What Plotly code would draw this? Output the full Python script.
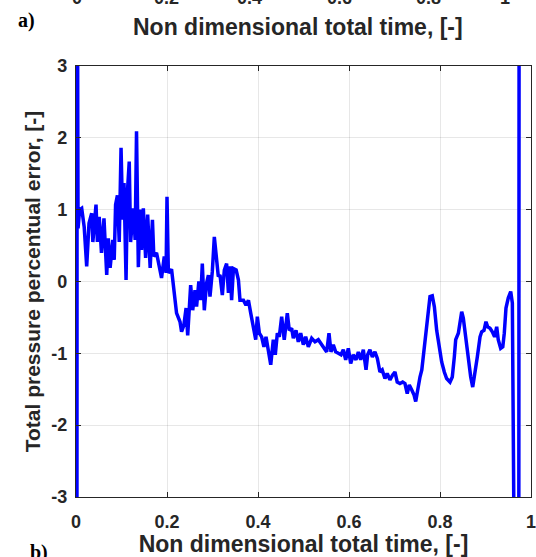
import plotly.graph_objects as go

# ---- data ----
time_vals = [0.002, 0.0025, 0.003, 0.004, 0.0045, 0.008, 0.0125, 0.018, 0.0235, 0.0286,
             0.0345, 0.037, 0.044, 0.047, 0.051, 0.056, 0.0615, 0.0675, 0.071, 0.075,
             0.081, 0.084, 0.087, 0.091, 0.095, 0.099, 0.1026, 0.1055, 0.11, 0.113,
             0.117, 0.12, 0.126, 0.13, 0.133, 0.137, 0.141, 0.144, 0.148, 0.153,
             0.1575, 0.163, 0.168, 0.171, 0.177, 0.182, 0.188, 0.194, 0.198, 0.2,
             0.203, 0.21, 0.215, 0.221, 0.2286, 0.232, 0.237, 0.242, 0.2455, 0.252,
             0.2565, 0.2615, 0.265, 0.270, 0.274, 0.2776, 0.282, 0.287, 0.291, 0.2945,
             0.2996, 0.304, 0.3077, 0.3128, 0.3165, 0.3216, 0.326, 0.331, 0.335, 0.3385,
             0.342, 0.346, 0.352, 0.357, 0.3604, 0.368, 0.3736, 0.379, 0.384, 0.39,
             0.395, 0.3985, 0.403, 0.408, 0.413, 0.4176, 0.4227, 0.428, 0.4336, 0.438,
             0.4425, 0.4468, 0.452, 0.4577, 0.4644, 0.4688, 0.474, 0.4776, 0.4835, 0.4886,
             0.4938, 0.4996, 0.5048, 0.5106, 0.518, 0.5253, 0.5326, 0.54, 0.547, 0.551,
             0.556, 0.5604, 0.5655, 0.5707, 0.5765, 0.5824, 0.5875, 0.5927, 0.5985, 0.6037,
             0.6095, 0.6154, 0.6205, 0.6257, 0.6315, 0.6374, 0.641, 0.646, 0.6513, 0.657,
             0.6623, 0.668, 0.673, 0.679, 0.684, 0.690, 0.696, 0.701, 0.706, 0.712,
             0.718, 0.723, 0.728, 0.7325, 0.738, 0.743, 0.7466, 0.752, 0.756, 0.76,
             0.7634, 0.767, 0.7708, 0.7743, 0.778, 0.783, 0.7876, 0.7927, 0.7985, 0.8037,
             0.8095, 0.8146, 0.822, 0.827, 0.8315, 0.8345, 0.8403, 0.844, 0.8477, 0.8512,
             0.8565, 0.8623, 0.8675, 0.8719, 0.877, 0.882, 0.888, 0.8916, 0.8967, 0.901,
             0.9048, 0.91, 0.915, 0.920, 0.9246, 0.928, 0.9334, 0.938, 0.9413, 0.945,
             0.950, 0.9554, 0.959, 0.962, 0.9655, 0.973, 0.974]

error_vals = [-6, 6, 2.3, 2.05, 0.74, 1.0, 1.02, 0.76, 0.21, 0.81,
              0.95, 0.55, 1.07, 0.55, 0.9, 0.4, 0.88, 0.09, 0.6, 0.19,
              0.58, 0.3, 1.07, 1.2, 0.55, 1.86, 0.86, 1.37, 0.02, 1.25,
              1.67, 0.55, 1.02, 0.58, 2.09, 0.2, 1.0, 0.44, 1.02, 0.33,
              0.93, 0.19, 0.86, 0.35, 0.4, 0.21, 0.05, 0.35, 0.12, 1.18,
              0.12, 0.17, -0.14, -0.44, -0.56, -0.70, -0.61, -0.37, -0.75, -0.05,
              -0.40, -0.12, -0.35, 0.0, -0.26, 0.25, -0.40, -0.02, 0.09, -0.21,
              0.14, 0.62, 0.39, 0.07, 0.09, -0.19, 0.16, 0.25, -0.16, 0.21,
              -0.26, 0.18, 0.16, 0.02, -0.26, -0.26, -0.33, -0.26, -0.44, -0.63,
              -0.81, -0.49, -0.72, -0.77, -0.91, -0.77, -1.0, -1.16, -0.81, -1.02,
              -0.72, -0.77, -0.49, -0.81, -0.44, -0.68, -0.65, -0.79, -0.68, -0.84,
              -0.72, -0.88, -0.77, -0.91, -0.79, -0.84, -0.81, -0.88, -0.95, -0.98,
              -0.72, -0.98, -0.88, -0.98, -1.0, -1.02, -0.95, -1.09, -0.93, -1.14,
              -1.02, -1.09, -0.98, -1.09, -0.95, -1.23, -1.02, -0.95, -1.05, -0.98,
              -1.07, -1.26, -1.23, -1.35, -1.28, -1.37, -1.30, -1.26, -1.40, -1.42,
              -1.40, -1.42, -1.56, -1.44, -1.51, -1.58, -1.67, -1.44, -1.33, -1.23,
              -1.02, -0.84, -0.63, -0.35, -0.21, -0.20, -0.35, -0.68, -0.95, -1.12,
              -1.26, -1.35, -1.40, -1.33, -1.05, -0.81, -0.72, -0.58, -0.42, -0.51,
              -0.81, -1.14, -1.33, -1.47, -1.28, -1.05, -0.77, -0.70, -0.68, -0.56,
              -0.63, -0.65, -0.70, -0.77, -0.63, -0.81, -0.93, -0.91, -0.72, -0.37,
              -0.23, -0.14, -0.30, -1.7, -6, -6, 6]

x_tick_vals = [0, 0.2, 0.4, 0.6, 0.8, 1]
x_tick_text = ["0", "0.2", "0.4", "0.6", "0.8", "1"]
y_tick_vals = [-3, -2, -1, 0, 1, 2, 3]
y_tick_text = ["-3", "-2", "-1", "0", "1", "2", "3"]

# cut-off tick labels of the panel above (panel a)
top_tick_text = ["0", "0.2", "0.4", "0.6", "0.8", "1"]
top_tick_pos = [0.002, 0.198, 0.382, 0.580, 0.774, 0.943]

x_title = "Non dimensional total time, [-]"
y_title = "Total pressure percentual error, [-]"

AX = "#262626"
GRID = "rgba(38,38,38,0.11)"
SANS = "Liberation Sans, Arial, sans-serif"
SERIF = "Liberation Serif, Times New Roman, serif"

fig = go.Figure()
fig.add_trace(go.Scatter(
    x=time_vals, y=error_vals, mode="lines",
    line=dict(color="#0000ff", width=3.5),
    showlegend=False, hoverinfo="skip",
))

fig.update_layout(
    width=536, height=557,
    margin=dict(l=76, r=5, t=66, b=60),
    paper_bgcolor="white", plot_bgcolor="white",
    font=dict(family=SANS, color=AX),
)

fig.update_xaxes(
    range=[0, 1], tickvals=x_tick_vals, ticktext=x_tick_text,
    showgrid=True, gridcolor=GRID, gridwidth=1, zeroline=False,
    showline=True, linecolor=AX, linewidth=1.2, mirror="ticks",
    ticks="inside", ticklen=5, tickcolor=AX, tickwidth=1,
    tickfont=dict(family=SANS, size=18, color=AX, weight="bold"),
    ticklabelstandoff=8, ticklabeloverflow="allow",
    title=dict(text=x_title, font=dict(family=SANS, size=23, color=AX, weight="bold"), standoff=1),
    automargin=False,
)
fig.update_yaxes(
    range=[-3, 3], tickvals=y_tick_vals, ticktext=y_tick_text,
    showgrid=True, gridcolor=GRID, gridwidth=1, zeroline=False,
    showline=True, linecolor=AX, linewidth=1.2, mirror="ticks",
    ticks="inside", ticklen=5, tickcolor=AX, tickwidth=1,
    tickfont=dict(family=SANS, size=18, color=AX, weight="bold"),
    ticklabelstandoff=4, ticklabeloverflow="allow",
    title=dict(text=y_title, font=dict(family=SANS, size=21, color=AX, weight="bold"), standoff=4),
    automargin=False,
)

annotations = []
for txt, px in zip(top_tick_text, top_tick_pos):
    annotations.append(dict(
        x=px, y=1.158, xref="paper", yref="paper", text=txt, showarrow=False,
        xanchor="center", yanchor="middle",
        font=dict(family=SANS, size=18, color=AX, weight="bold"),
    ))
annotations.append(dict(
    x=0.488, y=1.0905, xref="paper", yref="paper", text=x_title, showarrow=False,
    xanchor="center", yanchor="middle",
    font=dict(family=SANS, size=23, color=AX, weight="bold"),
))
annotations.append(dict(
    x=-0.1077, y=1.1067, xref="paper", yref="paper", text="a)", showarrow=False,
    xanchor="center", yanchor="middle",
    font=dict(family=SERIF, size=20, color="black", weight="bold"),
))
annotations.append(dict(
    x=-0.0813, y=-0.128, xref="paper", yref="paper", text="b)", showarrow=False,
    xanchor="center", yanchor="middle",
    font=dict(family=SERIF, size=20, color="black", weight="bold"),
))
fig.update_layout(annotations=annotations)

fig.write_html("out.html", config={"displayModeBar": False},
               post_script="document.body.style.margin='0';")
